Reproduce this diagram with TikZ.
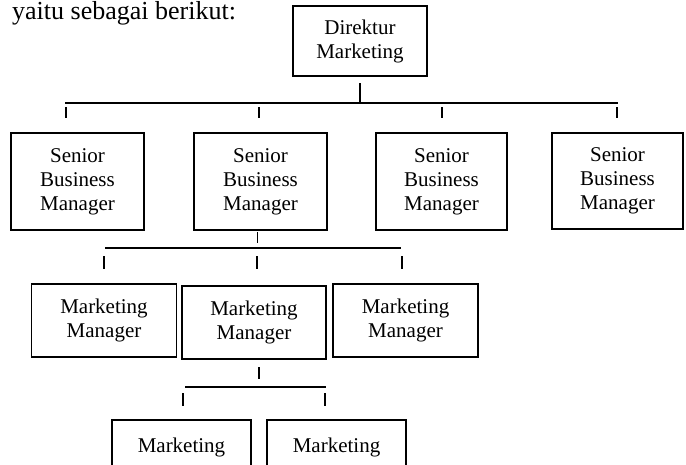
\documentclass[tikz,border=0pt]{standalone}
\usepackage{fontspec}
\setmainfont{Liberation Serif}
\usetikzlibrary{calc}
\tikzset{
  orgbox/.style={draw, line width=1.6pt, inner sep=0pt, align=center,
    font=\fontsize{21}{24}\selectfont},
  conn/.style={line width=1.5pt},
  lbl/.style={inner sep=0pt, font=\fontsize{21}{24}\selectfont}
}
\begin{document}
\begin{tikzpicture}[x=1pt,y=-1pt]
\useasboundingbox (0,0) rectangle (686,464);
\clip (0,0) rectangle (686,464);
% heading
\node[inner sep=0pt, anchor=base west, font=\fontsize{26}{30}\selectfont] (head) at (12,19) {yaitu sebagai berikut:};
% level 0
\node[orgbox, minimum width=134pt, minimum height=70pt] (dir) at (360,41) {Direktur\\Marketing};
% level 1
\node[orgbox, minimum width=133pt, minimum height=97pt] (s1) at (77.5,181.5) {Senior\\Business\\Manager};
\node[orgbox, minimum width=133pt, minimum height=97pt] (s2) at (260.5,181.5) {Senior\\Business\\Manager};
\node[orgbox, minimum width=131pt, minimum height=97pt] (s3) at (441.5,181.5) {Senior\\Business\\Manager};
\node[orgbox, minimum width=131pt, minimum height=96pt] (s4) at (617.5,181) {Senior\\Business\\Manager};
% level 2
\node[orgbox, minimum width=145pt, minimum height=73pt] (m1) at (104,320.5) {Marketing\\Manager};
\node[orgbox, minimum width=144pt, minimum height=73pt] (m2) at (254,322.5) {Marketing\\Manager};
\node[orgbox, minimum width=145pt, minimum height=73pt] (m3) at (405.5,320.5) {Marketing\\Manager};
% level 3 (cropped at bottom)
\node[orgbox, minimum width=139pt, minimum height=80pt] (b1) at (181.5,460) {};
\node[orgbox, minimum width=139pt, minimum height=80pt] (b2) at (336.5,460) {};
\node[lbl, anchor=base] (b1t) at (181.5,452) {Marketing};
\node[lbl, anchor=base] (b2t) at (336.5,452) {Marketing};
% bus 1
\coordinate (d1) at (360,83);
\coordinate (j1) at (360,103);
\coordinate (h1a) at (65,103);
\coordinate (h1b) at (617.5,103);
\draw[conn] (d1) -- (j1);
\draw[conn] (h1a) -- (h1b);
\foreach \x/\n in {66/t1,259/t2,442/t3,617/t4} {
  \coordinate (\n a) at (\x,107);
  \coordinate (\n b) at (\x,118);
  \draw[conn] (\n a) -- (\n b);
}
% bus 2
\coordinate (d2) at (257.5,232);
\coordinate (j2) at (257.5,243);
\coordinate (h2a) at (105,248);
\coordinate (h2b) at (401,248);
\draw[conn] (d2) -- (j2);
\draw[conn] (h2a) -- (h2b);
\foreach \x/\n in {104/u1,257/u2,402/u3} {
  \coordinate (\n a) at (\x,256);
  \coordinate (\n b) at (\x,269);
  \draw[conn] (\n a) -- (\n b);
}
% bus 3
\coordinate (d3) at (259,367);
\coordinate (j3) at (259,379);
\coordinate (h3a) at (185,387);
\coordinate (h3b) at (326,387);
\draw[conn] (d3) -- (j3);
\draw[conn] (h3a) -- (h3b);
\foreach \x/\n in {183/v1,325/v2} {
  \coordinate (\n a) at (\x,393);
  \coordinate (\n b) at (\x,406);
  \draw[conn] (\n a) -- (\n b);
}
\end{tikzpicture}
\end{document}
